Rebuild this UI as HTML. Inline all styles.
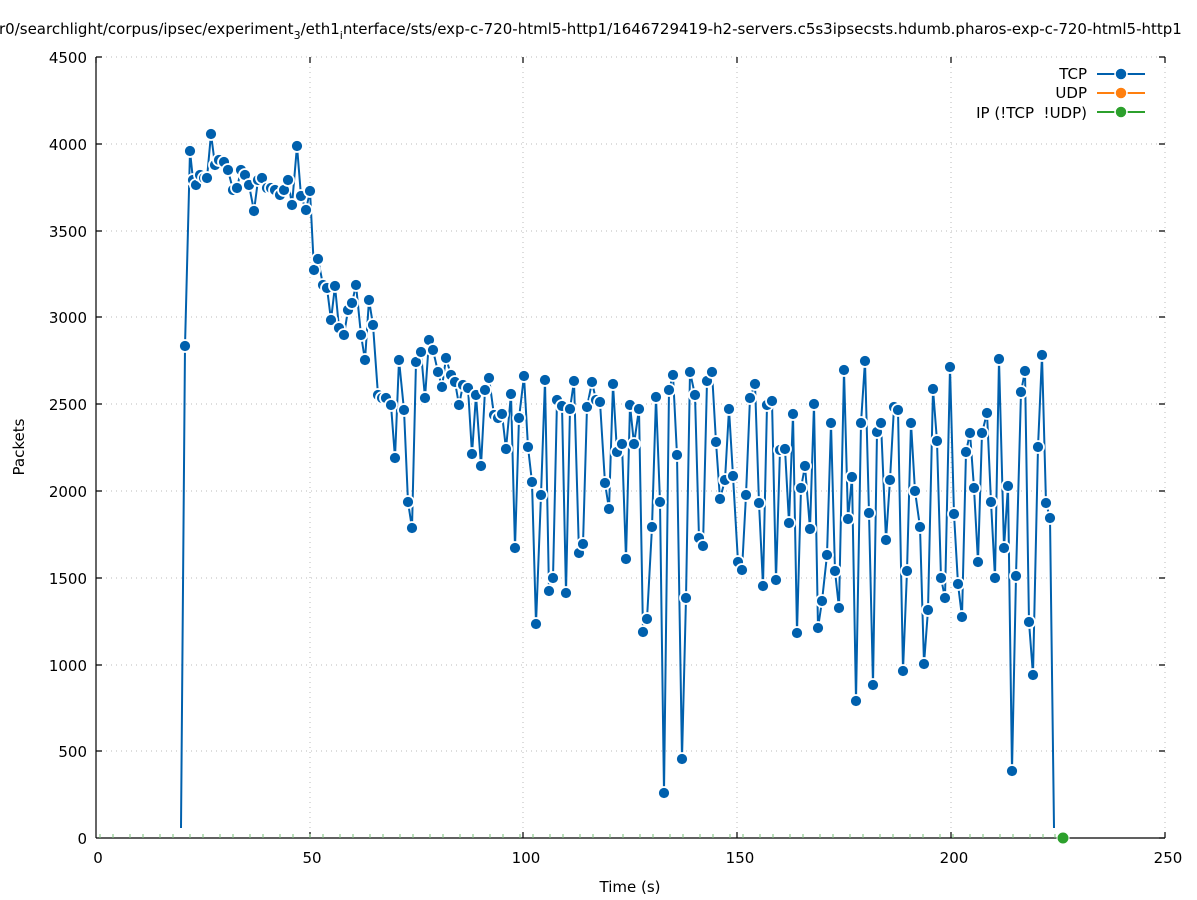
<!DOCTYPE html>
<html><head><meta charset="utf-8"><style>
html,body{margin:0;padding:0;background:#fff;overflow:hidden}
svg{display:block;font-family:"DejaVu Sans","Liberation Sans",sans-serif}
</style></head><body>
<svg width="1197" height="900" viewBox="0 0 1197 900" xmlns="http://www.w3.org/2000/svg">
<defs>
<marker id="m" markerWidth="16" markerHeight="16" refX="8" refY="8" markerUnits="userSpaceOnUse">
<circle cx="8" cy="8" r="6" fill="#0060ad" stroke="#fff" stroke-width="1.8"/>
</marker>
</defs>
<text x="-1" y="34" font-size="15" fill="#000">r0/searchlight/corpus/ipsec/experiment<tspan font-size="11" dy="5">3</tspan><tspan dy="-5">/eth1</tspan><tspan font-size="11" dy="5">i</tspan><tspan dy="-5">nterface/sts/exp-c-720-html5-http1/1646729419-h2-servers.c5s3ipsecsts.hdumb.pharos-exp-c-720-html5-http1</tspan></text>
<g stroke="#bbb" stroke-width="1" stroke-dasharray="1,4">
<line x1="96" y1="57" x2="1165" y2="57"/><line x1="96" y1="144" x2="1165" y2="144"/><line x1="96" y1="231" x2="1165" y2="231"/><line x1="96" y1="317" x2="1165" y2="317"/><line x1="96" y1="404" x2="1165" y2="404"/><line x1="96" y1="491" x2="1165" y2="491"/><line x1="96" y1="578" x2="1165" y2="578"/><line x1="96" y1="665" x2="1165" y2="665"/><line x1="96" y1="751" x2="1165" y2="751"/>
<line x1="310" y1="57" x2="310" y2="838"/><line x1="523" y1="57" x2="523" y2="838"/><line x1="737" y1="57" x2="737" y2="838"/><line x1="951" y1="57" x2="951" y2="838"/><line x1="1165" y1="57" x2="1165" y2="838"/>
</g>
<g stroke="#000" stroke-width="1.2" fill="none">
<line x1="96" y1="57" x2="96" y2="838"/><line x1="96" y1="838" x2="1165" y2="838"/>
<path d="M96 57h6M96 144h6M96 231h6M96 317h6M96 404h6M96 491h6M96 578h6M96 665h6M96 751h6M1165 57h-6M1165 144h-6M1165 231h-6M1165 317h-6M1165 404h-6M1165 491h-6M1165 578h-6M1165 665h-6M1165 751h-6M1165 838h-6M310 838v-6M523 838v-6M737 838v-6M951 838v-6M1165 838v-6M310 57v6M523 57v6M737 57v6M951 57v6M1165 57v6M96 57v6"/>
</g>
<g font-size="15" text-anchor="end" fill="#000">
<text x="87" y="63">4500</text><text x="87" y="150">4000</text><text x="87" y="237">3500</text><text x="87" y="323">3000</text><text x="87" y="410">2500</text><text x="87" y="497">2000</text><text x="87" y="584">1500</text><text x="87" y="671">1000</text><text x="87" y="757">500</text><text x="87" y="844">0</text>
</g>
<g font-size="15" text-anchor="middle" fill="#000">
<text x="98" y="863">0</text><text x="312" y="863">50</text><text x="526" y="863">100</text><text x="740" y="863">150</text><text x="954" y="863">200</text><text x="1168" y="863">250</text>
<text x="630" y="892">Time (s)</text>
<text x="24" y="447" transform="rotate(-90 24 447)">Packets</text>
</g>
<path d="M100 838v-4M113 838v-4M130 838v-4M143 838v-4M160 838v-4M173 838v-4M190 838v-4M203 838v-4M220 838v-4M233 838v-4M250 838v-4M263 838v-4M280 838v-4M293 838v-4M310 838v-4M323 838v-4M340 838v-4M353 838v-4M370 838v-4M383 838v-4M400 838v-4M413 838v-4M430 838v-4M443 838v-4M460 838v-4M473 838v-4M490 838v-4M503 838v-4M520 838v-4M533 838v-4M550 838v-4M563 838v-4M580 838v-4M593 838v-4M610 838v-4M623 838v-4M640 838v-4M653 838v-4M670 838v-4M683 838v-4M700 838v-4M713 838v-4M730 838v-4M743 838v-4M760 838v-4M773 838v-4M790 838v-4M803 838v-4M820 838v-4M833 838v-4M850 838v-4M863 838v-4M880 838v-4M893 838v-4M910 838v-4M923 838v-4M940 838v-4M953 838v-4M970 838v-4M983 838v-4M1000 838v-4M1013 838v-4M1030 838v-4M1043 838v-4M1055 838v-4" stroke="#7ac27a" stroke-width="1"/>
<polyline fill="none" stroke="#0060ad" stroke-width="2" marker-mid="url(#m)" points="181,828 185,346 190,151 193,180 196,185 200,175 204,178 207,178 211,134 215,165 219,160 224,162 228,170 233,190 237,188 241,170 245,175 249,185 254,211 258,180 262,178 267,188 271,188 275,190 280,195 284,190 288,180 292,205 297,146 301,196 306,210 310,191 314,270 318,259 323,285 327,288 331,320 335,286 339,328 344,335 348,310 352,303 356,285 361,335 365,360 369,300 373,325 378,395 382,398 386,398 391,405 395,458 399,360 404,410 408,502 412,528 416,362 421,352 425,398 429,340 433,350 438,372 442,387 446,358 451,375 455,382 459,405 463,385 468,388 472,454 476,395 481,466 485,390 489,378 494,415 498,418 502,414 506,449 511,394 515,548 519,418 524,376 528,447 532,482 536,624 541,495 545,380 549,591 553,578 557,400 562,406 566,593 570,409 574,381 579,553 583,544 587,407 592,382 596,400 600,402 605,483 609,509 613,384 617,452 622,444 626,559 630,405 634,444 639,409 643,632 647,619 652,527 656,397 660,502 664,793 669,390 673,375 677,455 682,759 686,598 690,372 695,395 699,538 703,546 707,381 712,372 716,442 720,499 725,480 729,409 733,476 738,562 742,570 746,495 750,398 755,384 759,503 763,586 767,405 772,401 776,580 780,450 785,449 789,523 793,414 797,633 801,488 805,466 810,529 814,404 818,628 822,601 827,555 831,423 835,571 839,608 844,370 848,519 852,477 856,701 861,423 865,361 869,513 873,685 877,432 881,423 886,540 890,480 894,407 898,410 903,671 907,571 911,423 915,491 920,527 924,664 928,610 933,389 937,441 941,578 945,598 950,367 954,514 958,584 962,617 966,452 970,433 974,488 978,562 982,433 987,413 991,502 995,578 999,359 1004,548 1008,486 1012,771 1016,576 1021,392 1025,371 1029,622 1033,675 1038,447 1042,355 1046,503 1050,518 1054,828"/>
<circle cx="1063" cy="838" r="6" fill="#2ca02c" stroke="#fff" stroke-width="1"/>
<g font-size="15" text-anchor="end" fill="#000">
<text x="1087" y="79">TCP</text><text x="1087" y="98">UDP</text><text x="1087" y="118" xml:space="preserve">IP (!TCP  !UDP)</text>
</g>
<g stroke-width="2">
<line x1="1097" y1="74" x2="1145" y2="74" stroke="#0060ad"/><circle cx="1121" cy="74" r="6" fill="#0060ad" stroke="#fff" stroke-width="1.5"/>
<line x1="1097" y1="93" x2="1145" y2="93" stroke="#ff7f0e"/><circle cx="1121" cy="93" r="6" fill="#ff7f0e" stroke="#fff" stroke-width="1.5"/>
<line x1="1097" y1="112" x2="1145" y2="112" stroke="#2ca02c"/><circle cx="1121" cy="112" r="6" fill="#2ca02c" stroke="#fff" stroke-width="1.5"/>
</g>
</svg>
</body></html>
